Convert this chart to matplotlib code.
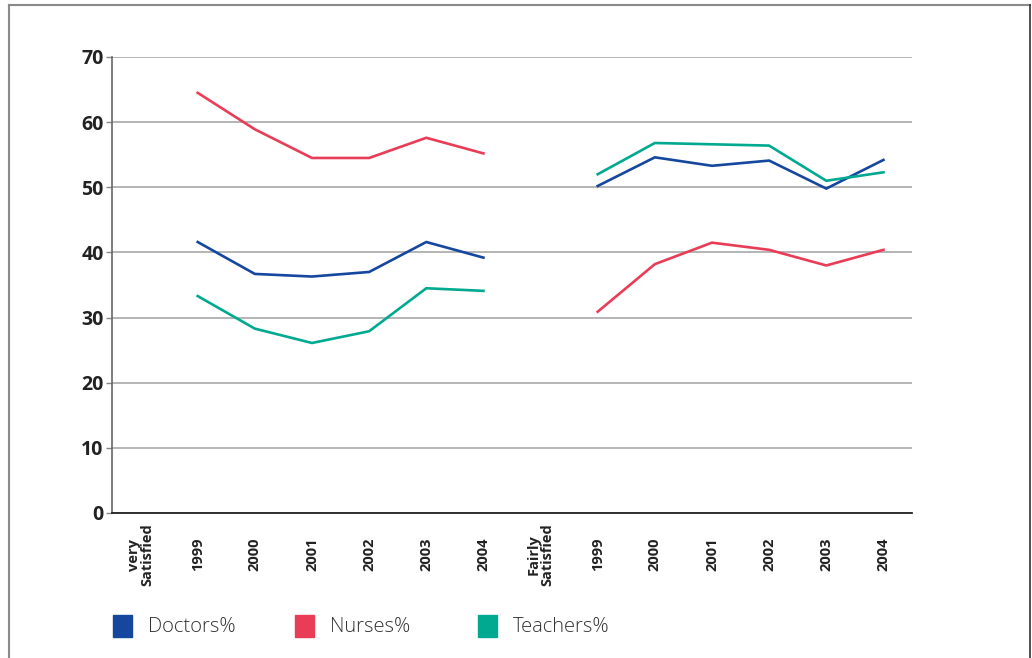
import numpy as np
import matplotlib
matplotlib.use("Agg")
import matplotlib.pyplot as plt
from matplotlib.lines import Line2D
from matplotlib.patches import Rectangle

plt.rcParams['font.family'] = ['Open Sans', 'DejaVu Sans']

# categories along the x axis
categories = ["very\nSatisfied", "1999", "2000", "2001", "2002", "2003", "2004",
              "Fairly\nSatisfied", "1999", "2000", "2001", "2002", "2003", "2004"]

# values for 1999-2004, "very satisfied" block and "fairly satisfied" block
doctors_very = [41.6, 36.7, 36.3, 37.0, 41.6, 39.2]
nurses_very = [64.5, 58.9, 54.5, 54.5, 57.6, 55.2]
teachers_very = [33.3, 28.3, 26.1, 27.9, 34.5, 34.1]

doctors_fairly = [50.2, 54.6, 53.3, 54.1, 49.8, 54.2]
nurses_fairly = [30.9, 38.2, 41.5, 40.4, 38.0, 40.4]
teachers_fairly = [52.0, 56.8, 56.6, 56.4, 51.0, 52.3]

series_names = ["Doctors%", "Nurses%", "Teachers%"]
colors = ["#15479e", "#e93d57", "#00a98f"]


def full_row(very, fairly):
    # blank slot under each group heading breaks the line
    return np.array([np.nan] + very + [np.nan] + fairly, dtype=float)


rows = [full_row(doctors_very, doctors_fairly),
        full_row(nurses_very, nurses_fairly),
        full_row(teachers_very, teachers_fairly)]

fig = plt.figure(figsize=(10.32, 6.58), dpi=100)
ax = fig.add_axes([112 / 1032, 1 - 513 / 658, 800 / 1032, 456 / 658])

x = np.arange(len(categories))
for row, c in zip(rows, colors):
    ax.plot(x, row, color=c, linewidth=1.9, solid_joinstyle='miter')

ax.set_xlim(-0.5, len(categories) - 0.5)
ax.set_ylim(0, 70)
ax.set_yticks(range(0, 71, 10))
ax.yaxis.grid(True, color="#a0a0a0", linewidth=1.1)
ax.set_axisbelow(True)

for s in ["top", "right"]:
    ax.spines[s].set_visible(False)
ax.spines["left"].set_color("#666666")
ax.spines["left"].set_linewidth(1.2)
ax.spines["bottom"].set_color("#222222")
ax.spines["bottom"].set_linewidth(1.3)
ax.spines["bottom"].set_zorder(3)

ax.tick_params(axis="y", length=4, width=1, color="#888888", pad=2,
               labelsize=14, labelcolor="#222222")
for lab in ax.get_yticklabels():
    lab.set_fontweight("bold")

ax.set_xticks(x)
ax.set_xticklabels(categories, rotation=90, fontsize=10.5, fontweight="bold",
                   color="#222222", linespacing=1.0,
                   family=['Liberation Sans Narrow', 'Open Sans', 'DejaVu Sans'])
ax.tick_params(axis="x", length=0, pad=30)
for lab in ax.get_xticklabels():
    lab.set_va("center")
    lab.set_ha("center")

# legend drawn as squares with text underneath the plot
leg_x = [113, 295, 478]
for lx, name, c in zip(leg_x, series_names, colors):
    fig.add_artist(Rectangle((lx / 1032, 1 - 637 / 658), 19 / 1032, 22 / 658,
                             transform=fig.transFigure, color=c))
    fig.text((lx + 35) / 1032, 1 - 627 / 658, name, fontsize=14.5,
             fontweight="light", color="#333333", va="center", ha="left")

# page frame
frame_c = "#8a8a8a"
fig.add_artist(Line2D([9 / 1032, 9 / 1032], [0, 1 - 5 / 658], color=frame_c, lw=1.5,
                      transform=fig.transFigure))
fig.add_artist(Line2D([9 / 1032, 1030 / 1032], [1 - 5 / 658, 1 - 5 / 658], color=frame_c,
                      lw=1.5, transform=fig.transFigure))
fig.add_artist(Line2D([1030 / 1032, 1030 / 1032], [0, 1 - 5 / 658], color="#333333", lw=1.2,
                      transform=fig.transFigure))

fig.savefig("out.png", dpi=100)
